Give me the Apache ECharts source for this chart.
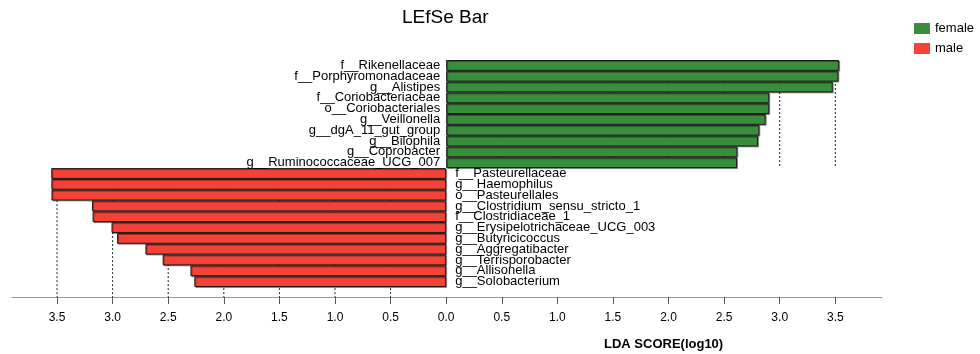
<!DOCTYPE html>
<html>
<head>
<meta charset="utf-8">
<script src="https://cdn.jsdelivr.net/npm/echarts@6/dist/echarts.min.js"></script>
<style>html,body{margin:0;padding:0;background:#fff;}#c{width:980px;height:354px;}</style>
</head>
<body>
<div id="c"></div>
<script>
const femaleNames = ['f__Rikenellaceae','f__Porphyromonadaceae','g__Alistipes','f__Coriobacteriaceae','o__Coriobacteriales','g__Veillonella','g__dgA_11_gut_group','g__Bilophila','g__Coprobacter','g__Ruminococcaceae_UCG_007'];
const femaleValues = [3.535, 3.528, 3.477, 2.906, 2.906, 2.874, 2.817, 2.805, 2.619, 2.616];
const maleNames = ['f__Pasteurellaceae','g__Haemophilus','o__Pasteurellales','g__Clostridium_sensu_stricto_1','f__Clostridiaceae_1','g__Erysipelotrichaceae_UCG_003','g__Butyricicoccus','g__Aggregatibacter','g__Terrisporobacter','g__Allisonella','g__Solobacterium'];
const maleValues = [3.552, 3.551, 3.550, 3.186, 3.180, 3.010, 2.960, 2.705, 2.550, 2.300, 2.265];
const tickValues = [-3.5,-3.0,-2.5,-2.0,-1.5,-1.0,-0.5,0,0.5,1.0,1.5,2.0,2.5,3.0,3.5];
const groupNames = ['female','male'];

const AXIS_OFFSET = 10;
const FONT = 'Liberation Sans, Arial, Helvetica, sans-serif';
const GREEN = '#388E3C', RED = '#F44336';

const categories = femaleNames.concat(maleNames);
const nF = femaleNames.length, nAll = categories.length;
const femaleData = categories.map((c,i)=> i < nF ? femaleValues[i] : '-');
const maleData = categories.map((c,i)=> i >= nF ? -maleValues[i-nF] : '-');
// gridlines: [x, startRow, endRow, extendToAxis]
const gridData = [];
tickValues.forEach(v=>{
  if (v > 0) gridData.push([v, 0, nF-1, 0]);
  else if (v < 0) gridData.push([v, nF, nAll-1, 1]);
});

const chart = echarts.init(document.getElementById('c'), null, {renderer:'canvas'});
const barStyle = (color)=>({color:color, borderColor:'#1a1a1a', borderWidth:1,
  shadowColor:'rgba(0,0,0,0.35)', shadowOffsetX:1, shadowOffsetY:1, shadowBlur:0});
chart.setOption({
  animation:false,
  backgroundColor:'#fff',
  textStyle:{fontFamily:FONT},
  title:[
    {text:'LEfSe Bar', left:397, top:3, textStyle:{fontFamily:FONT, fontSize:19, fontWeight:'normal', color:'#000'}},
    {text:'LDA SCORE(log10)', left:599, top:333, textStyle:{fontFamily:FONT, fontSize:13, fontWeight:'bold', color:'#000'}}
  ],
  legend:{
    data:groupNames, orient:'vertical', left:909, top:17, itemWidth:16, itemHeight:11, itemGap:7,
    icon:'rect', itemStyle:{borderWidth:0, shadowBlur:0, shadowOffsetX:0, shadowOffsetY:0},
    textStyle:{fontFamily:FONT, fontSize:13, color:'#000'}, selectedMode:false
  },
  grid:{left:12, right:98, top:60, bottom:67, containLabel:false},
  xAxis:{
    type:'value', min:-3.905, max:3.92, offset:AXIS_OFFSET,
    axisLine:{show:true, onZero:false, lineStyle:{color:'#999', width:1}},
    axisTick:{show:true, customValues:tickValues, length:7, lineStyle:{color:'#555'}},
    axisLabel:{customValues:tickValues, margin:15, fontSize:12, color:'#000', fontFamily:FONT,
      formatter:(v)=>Math.abs(v).toFixed(1)},
    splitLine:{show:false}
  },
  yAxis:{
    type:'category', data:categories, inverse:true, show:false
  },
  series:[
    {
      type:'custom', z:1, silent:true, data:gridData, encode:{x:0, y:1},
      renderItem:(params, api)=>{
        const x = api.coord([api.value(0), 0])[0];
        const band = api.size([0,1])[1];
        const yTop = api.coord([0, api.value(1)])[1] - band/2;
        let yBot;
        if (api.value(3)) yBot = params.coordSys.y + params.coordSys.height + AXIS_OFFSET;
        else yBot = api.coord([0, api.value(2)])[1] + band/2;
        return {type:'line', shape:{x1:x, y1:yTop, x2:x, y2:yBot},
          style:{stroke:'#222', lineWidth:1, lineDash:[2,2]}};
      }
    },
    {
      name:'female', type:'bar', z:2, data:femaleData, barGap:'-100%', barCategoryGap:'0%',
      itemStyle:barStyle(GREEN),
      label:{show:true, position:'left', distance:6, formatter:'{b}', fontSize:13, color:'#000', fontFamily:FONT}
    },
    {
      name:'male', type:'bar', z:2, data:maleData, barGap:'-100%', barCategoryGap:'0%',
      itemStyle:barStyle(RED),
      label:{show:true, position:'right', distance:9, formatter:'{b}', fontSize:13, color:'#000', fontFamily:FONT}
    }
  ]
});
</script>
</body>
</html>
